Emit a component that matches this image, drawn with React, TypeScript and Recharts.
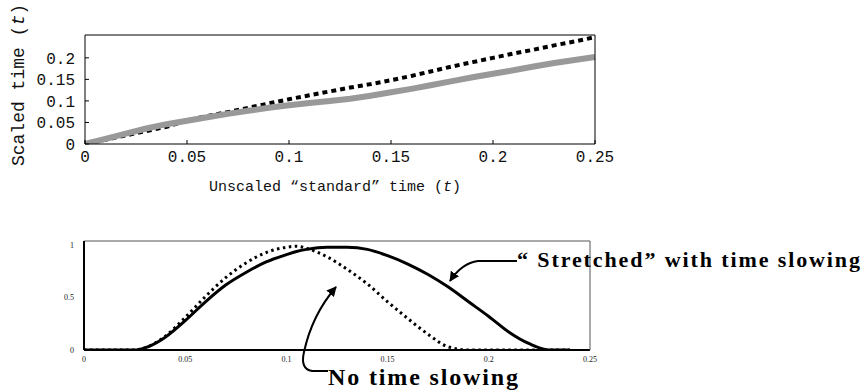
import React from "react";
import { LineChart, Line, XAxis, YAxis } from "recharts";

// top panel: scaled vs unscaled time
const unscaledTime = [0, 0.01, 0.02, 0.03, 0.04, 0.05, 0.06, 0.07, 0.08, 0.09, 0.1, 0.11, 0.12, 0.13, 0.14, 0.15, 0.16, 0.17, 0.18, 0.19, 0.2, 0.21, 0.22, 0.23, 0.24, 0.25];
const scaledSlowed = [0, 0.012, 0.024, 0.036, 0.046, 0.054, 0.062, 0.07, 0.077, 0.084, 0.09, 0.095, 0.1, 0.105, 0.112, 0.12, 0.128, 0.137, 0.146, 0.155, 0.163, 0.171, 0.18, 0.188, 0.195, 0.202];
const scaledStandard = [0, 0.01, 0.02, 0.03, 0.04, 0.055, 0.065, 0.074, 0.084, 0.094, 0.104, 0.113, 0.122, 0.131, 0.139, 0.148, 0.158, 0.169, 0.18, 0.19, 0.2, 0.21, 0.219, 0.229, 0.238, 0.248];
const topXTicks = [0, 0.05, 0.1, 0.15, 0.2, 0.25];
const topYTicks = [0, 0.05, 0.1, 0.15, 0.2];

// bottom panel: trajectory profiles
const profileTime = [0, 0.01, 0.02, 0.025, 0.03, 0.04, 0.05, 0.06, 0.07, 0.08, 0.09, 0.1, 0.105, 0.11, 0.12, 0.13, 0.14, 0.15, 0.16, 0.17, 0.18, 0.19, 0.2, 0.21, 0.22, 0.23, 0.24];
const stretched = [0, 0, 0, 0, 0.02, 0.12, 0.28, 0.46, 0.62, 0.74, 0.84, 0.91, 0.94, 0.96, 0.98, 0.98, 0.96, 0.9, 0.82, 0.72, 0.6, 0.46, 0.32, 0.17, 0.06, 0, 0];
const noSlowing = [0, 0, 0, 0, 0.02, 0.13, 0.31, 0.51, 0.69, 0.83, 0.93, 0.98, 0.99, 0.97, 0.89, 0.77, 0.63, 0.46, 0.3, 0.15, 0.03, 0, 0, 0, 0, 0, 0];
const bottomXTicks = [0, 0.05, 0.1, 0.15, 0.2, 0.25];
const bottomYTicks = [0, 0.5, 1];

const topData = unscaledTime.map((t, i) => ({ t, slowed: scaledSlowed[i], standard: scaledStandard[i] }));
const bottomData = profileTime.map((t, i) => ({ t, stretched: stretched[i], plain: noSlowing[i] }));

const mono = "'Liberation Mono', 'Courier New', monospace";
const serif = "'Liberation Serif', 'Times New Roman', serif";

const App = () => {
  return (
    <div style={{ position: "absolute", left: 0, top: 0, width: 868, height: 392, background: "#fff" }}>
      <div style={{ position: "absolute", left: 0, top: 0 }}>
        <LineChart width={868} height={200} data={topData} margin={{ top: 34, right: 272, bottom: 26, left: 25 }}>
          <XAxis
            dataKey="t"
            type="number"
            domain={[0, 0.25]}
            ticks={topXTicks}
            interval={0}
            tickSize={-4}
            tickMargin={11}
            height={30}
            stroke="#000"
            tick={{ fill: "#111", fontFamily: mono, fontSize: 16 }}
          />
          <XAxis xAxisId="top" orientation="top" dataKey="t" type="number" domain={[0, 0.25]} ticks={topXTicks} interval={0} tickSize={-4} height={1} stroke="#000" tick={false} allowDataOverflow />
          <YAxis
            type="number"
            domain={[0, 0.253]}
            ticks={topYTicks}
            interval={0}
            tickSize={-4}
            tickMargin={14}
            width={60}
            stroke="#000"
            allowDataOverflow
            tick={{ fill: "#111", fontFamily: mono, fontSize: 16 }}
          />
          <YAxis yAxisId="right" orientation="right" type="number" domain={[0, 0.253]} ticks={topYTicks} interval={0} tickSize={-4} width={1} stroke="#000" tick={false} allowDataOverflow />
          <Line dataKey="standard" stroke="#000" strokeWidth={4} strokeDasharray="5 4" dot={false} isAnimationActive={false} type="linear" />
          <Line dataKey="slowed" stroke="#999" strokeWidth={6} dot={false} isAnimationActive={false} type="linear" />
        </LineChart>
      </div>

      <div style={{ position: "absolute", left: 0, top: 230 }}>
        <LineChart width={868} height={150} data={bottomData} margin={{ top: 10, right: 277, bottom: 10, left: 54 }}>
          <XAxis
            dataKey="t"
            type="number"
            domain={[0, 0.25]}
            ticks={bottomXTicks}
            interval={0}
            tickLine={false}
            tickMargin={0}
            height={20}
            axisLine={{ stroke: "#000", strokeWidth: 2 }}
            tick={{ fill: "#222", fontFamily: serif, fontSize: 8 }}
          />
          <XAxis xAxisId="top" orientation="top" dataKey="t" type="number" domain={[0, 0.25]} height={1} tick={false} tickLine={false} axisLine={{ stroke: "#555", strokeWidth: 1 }} allowDataOverflow />
          <YAxis
            type="number"
            domain={[0, 1.04]}
            ticks={bottomYTicks}
            interval={0}
            tickLine={false}
            tickMargin={4}
            width={30}
            allowDataOverflow
            axisLine={{ stroke: "#000", strokeWidth: 2 }}
            tick={{ fill: "#222", fontFamily: serif, fontSize: 8 }}
          />
          <YAxis yAxisId="right" orientation="right" type="number" domain={[0, 1.04]} width={1} tick={false} tickLine={false} axisLine={{ stroke: "#555", strokeWidth: 1 }} allowDataOverflow />
          <Line dataKey="plain" stroke="#000" strokeWidth={3} strokeDasharray="2.5 3.5" dot={false} isAnimationActive={false} type="monotone" />
          <Line dataKey="stretched" stroke="#000" strokeWidth={3} dot={false} isAnimationActive={false} type="monotone" />
        </LineChart>
      </div>

      {/* axis titles and annotations */}
      <svg width={868} height={392} style={{ position: "absolute", left: 0, top: 0, pointerEvents: "none" }}>
        <text x={24} y={85} transform="rotate(-90 24 85)" textAnchor="middle" fontFamily={mono} fontSize={18} fill="#111">
          Scaled time (<tspan fontStyle="italic">t</tspan>)
        </text>
        <text x={335} y={191} textAnchor="middle" fontFamily={mono} fontSize={15} fill="#111">
          Unscaled “standard” time (<tspan fontStyle="italic">t</tspan>)
        </text>

        <defs>
          <marker id="head" viewBox="0 0 10 10" refX="9" refY="5" markerWidth="5" markerHeight="5" orient="auto">
            <path d="M0,0 L10,5 L0,10 z" fill="#000" />
          </marker>
        </defs>
        <path d="M517,261 L478,261 Q462,263 450,281" fill="none" stroke="#000" strokeWidth={2} markerEnd="url(#head)" />
        <text x={517} y={267} fontFamily={serif} fontWeight="bold" fontSize={22} fill="#000" textLength={343} lengthAdjust="spacing">
          “ Stretched” with time slowing
        </text>
        <path d="M328,371 L312,371 Q300,369 304,352 Q312,315 336,287" fill="none" stroke="#000" strokeWidth={2} markerEnd="url(#head)" />
        <text x={328} y={385} fontFamily={serif} fontWeight="bold" fontSize={24} fill="#000" textLength={190} lengthAdjust="spacing">
          No time slowing
        </text>
      </svg>
    </div>
  );
};

export default App;
